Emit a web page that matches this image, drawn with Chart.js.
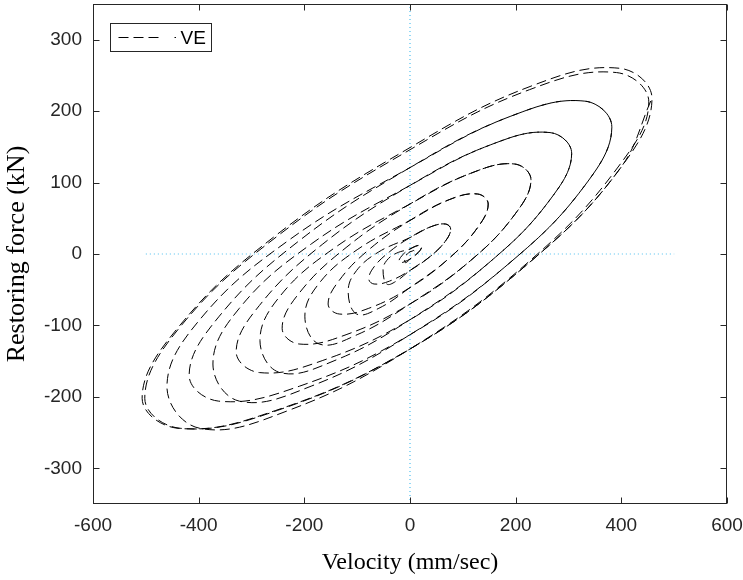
<!DOCTYPE html>
<html>
<head>
<meta charset="utf-8">
<script src="https://cdn.jsdelivr.net/npm/chart.js@4.4.0/dist/chart.umd.min.js"></script>
<style>
  html, body { margin: 0; padding: 0; background: #fff; }
  #chart { display: block; }
</style>
</head>
<body>
<canvas id="chart" width="743" height="580"></canvas>
<script>
// tick values
const xTicks = [-600, -400, -200, 0, 200, 400, 600];
const yTicks = [-300, -200, -100, 0, 100, 200, 300];

// VE hysteresis trace (one row per cycle)
const velocity = [
  8, 7, 4, 0, -5, -9, -10, -9, -5, 0, 11, 19,
  22, 19, 11, 0, -11, -18, -21, -18, -11, 0, 11, 19,
  22, 19, 11, 0, -26, -44, -51, -44, -26, 0, 39, 67,
  77, 67, 39, 0, -39, -68, -78, -68, -39, 0, 39, 67,
  77, 67, 39, 0, -59, -101, -117, -101, -59, 0, 74, 128,
  148, 128, 74, 0, -78, -134, -155, -134, -78, 0, 74, 128,
  148, 128, 74, 0, -100, -172, -199, -172, -100, 0, 115, 198,
  229, 198, 115, 0, -121, -210, -242, -210, -121, 0, 115, 198,
  229, 198, 115, 0, -142, -246, -284, -246, -142, 0, 153, 265,
  306, 265, 153, 0, -165, -285, -329, -285, -165, 0, 153, 265,
  306, 265, 153, 0, -187, -323, -373, -323, -187, 0, 191, 331,
  382, 331, 191, 0, -209, -362, -418, -362, -209, 0, 191, 331,
  382, 331, 191, 0, -230, -398, -460, -398, -230, 0, 226, 391,
  452, 391, 226, 0, -251, -435, -502, -435, -251, 0, 229, 397,
  458, 397, 229, 0, -254, -439, -507, -439, -254, 0, 229, 397, 458
];
const force = [
  4, 5, 4, 3, 0, -3, -7, -12, -11, -7, -1, 5,
  10, 12, 11, 7, 1, -5, -10, -12, -11, -7, -1, 5,
  10, 12, 11, 7, 1, -9, -22, -42, -38, -23, -3, 18,
  35, 42, 38, 23, 3, -18, -35, -42, -38, -23, -3, 18,
  35, 42, 38, 23, 3, -23, -52, -84, -76, -47, -6, 37,
  70, 84, 76, 47, 6, -37, -70, -84, -76, -47, -6, 37,
  70, 84, 76, 47, 6, -41, -87, -126, -113, -70, -9, 55,
  104, 126, 113, 70, 9, -55, -104, -126, -113, -70, -9, 55,
  104, 126, 113, 70, 9, -59, -121, -166, -149, -92, -10, 76,
  141, 170, 153, 96, 14, -72, -137, -166, -149, -92, -10, 76,
  141, 170, 153, 96, 14, -76, -154, -206, -185, -113, -11, 96,
  178, 214, 193, 121, 19, -88, -170, -206, -185, -113, -11, 96,
  178, 214, 193, 121, 19, -92, -186, -244, -219, -133, -10, 119,
  213, 254, 230, 146, 25, -102, -202, -244, -219, -133, -10, 119,
  218, 260, 235, 149, 26, -103, -202, -244, -219, -133, -10, 119, 218
];

// dotted reference lines
const zeroX = [-500, 500];
const zeroY = [0, 0];
const vertX = [0, 0];
const vertY = [-350, 350];

const toPts = (xs, ys) => xs.map((v, i) => ({ x: v, y: ys[i] }));

const tickFont = { family: "'Liberation Sans', Arial, sans-serif", size: 19 };
const serif = "'Liberation Serif', 'Times New Roman', serif";

// box, inward ticks and the boxed legend (MATLAB look)
const frame = {
  id: 'frame',
  afterDraw(chart) {
    const { ctx, chartArea: a, scales: { x, y } } = chart;
    const L = Math.round(a.left) + 0.5, R = Math.round(a.right) - 0.5;
    const T = Math.round(a.top) + 0.5, B = Math.round(a.bottom) - 0.5;
    ctx.save();
    ctx.strokeStyle = '#262626';
    ctx.lineWidth = 1;
    ctx.setLineDash([]);
    ctx.strokeRect(L, T, R - L, B - T);
    ctx.beginPath();
    xTicks.forEach(v => {
      const p = Math.round(x.getPixelForValue(v)) + 0.5;
      ctx.moveTo(p, B); ctx.lineTo(p, B - 6);
      ctx.moveTo(p, T); ctx.lineTo(p, T + 6);
    });
    yTicks.forEach(v => {
      const p = Math.round(y.getPixelForValue(v)) + 0.5;
      ctx.moveTo(L, p); ctx.lineTo(L + 6, p);
      ctx.moveTo(R, p); ctx.lineTo(R - 6, p);
    });
    ctx.stroke();

    // legend
    const lx = L + 17, ly = T + 19;
    ctx.fillStyle = '#fff';
    ctx.fillRect(lx, ly, 101, 28);
    ctx.strokeRect(lx, ly, 101, 28);
    ctx.strokeStyle = '#000';
    ctx.setLineDash([10, 5, 10, 5, 10, 16, 1.5, 100]);
    ctx.beginPath();
    ctx.moveTo(lx + 8, ly + 14);
    ctx.lineTo(lx + 66, ly + 14);
    ctx.stroke();
    ctx.setLineDash([]);
    ctx.fillStyle = '#000';
    ctx.font = "19px 'Liberation Sans', Arial, sans-serif";
    ctx.textBaseline = 'middle';
    ctx.fillText('VE', lx + 70, ly + 15);
    ctx.restore();
  }
};

new Chart(document.getElementById('chart').getContext('2d'), {
  type: 'scatter',
  data: {
    datasets: [
      {
        label: 'VE',
        data: toPts(velocity, force),
        showLine: true,
        borderColor: '#000',
        borderWidth: 1,
        borderDash: [10, 5],
        pointRadius: 0,
        tension: 0.4,
        fill: false
      },
      {
        label: 'zero',
        data: toPts(zeroX, zeroY),
        showLine: true,
        borderColor: '#4DBEEE',
        borderWidth: 1.2,
        borderDash: [1, 3],
        pointRadius: 0
      },
      {
        label: 'axis',
        data: toPts(vertX, vertY),
        showLine: true,
        borderColor: '#4DBEEE',
        borderWidth: 1.2,
        borderDash: [1, 3],
        pointRadius: 0
      }
    ]
  },
  options: {
    responsive: false,
    animation: false,
    layout: { padding: { top: 4, right: 16, left: 0, bottom: 0 } },
    plugins: { legend: { display: false }, tooltip: { enabled: false } },
    scales: {
      x: {
        type: 'linear',
        min: -600,
        max: 600,
        afterFit: s => { s.height = 76; s.paddingLeft = 0; s.paddingRight = 0; },
        afterBuildTicks: s => { s.ticks = xTicks.map(v => ({ value: v })); },
        grid: { display: false, drawTicks: false },
        border: { display: false },
        ticks: { padding: 10, color: '#262626', font: tickFont, maxRotation: 0, autoSkip: false, callback: v => String(v) },
        title: { display: true, text: 'Velocity (mm/sec)', color: '#000', font: { family: serif, size: 24 }, padding: { top: 0, bottom: 3 } }
      },
      y: {
        type: 'linear',
        min: -350,
        max: 350,
        afterFit: s => { s.width = 93; s.paddingTop = 0; s.paddingBottom = 0; },
        afterBuildTicks: s => { s.ticks = yTicks.map(v => ({ value: v })); },
        grid: { display: false, drawTicks: false },
        border: { display: false },
        ticks: { padding: 11, color: '#262626', font: tickFont, autoSkip: false, callback: v => String(v) },
        title: { display: true, text: 'Restoring force (kN)', color: '#000', font: { family: serif, size: 26 }, padding: { top: 2, bottom: 0 } }
      }
    }
  },
  plugins: [frame]
});
</script>
</body>
</html>
